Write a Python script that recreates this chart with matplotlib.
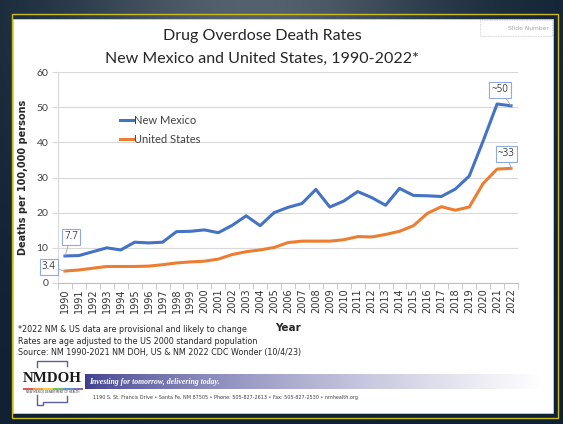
import matplotlib.pyplot as plt
import numpy as np
from matplotlib.patches import Rectangle

# age-adjusted overdose death rates per 100,000
years = list(range(1990, 2023))
nm_rates = [7.7, 7.8, 8.9, 10.0, 9.4, 11.6, 11.4, 11.6, 14.6, 14.7,
            15.1, 14.3, 16.4, 19.1, 16.3, 20.0, 21.5, 22.6, 26.6, 21.6,
            23.3, 26.0, 24.3, 22.1, 26.9, 24.9, 24.8, 24.6, 26.7, 30.4,
            40.4, 50.9, 50.4]
us_rates = [3.4, 3.7, 4.2, 4.7, 4.7, 4.7, 4.8, 5.2, 5.7, 6.0,
            6.2, 6.8, 8.1, 8.9, 9.4, 10.1, 11.5, 11.9, 11.9, 11.9,
            12.3, 13.2, 13.1, 13.8, 14.7, 16.3, 19.8, 21.7, 20.7, 21.6,
            28.3, 32.4, 32.6]
series_names = ["New Mexico", "United States"]
end_labels = ["~50", "~33"]
yticks = [0, 10, 20, 30, 40, 50, 60]

title_lines = ["Drug Overdose Death Rates",
               "New Mexico and United States, 1990-2022*"]
notes = ["*2022 NM & US data are provisional and likely to change",
         "Rates are age adjusted to the US 2000 standard population",
         "Source: NM 1990-2021 NM DOH, US & NM 2022 CDC Wonder (10/4/23)"]

W, H = 563, 424
fig = plt.figure(figsize=(W / 100, H / 100), dpi=100)

# slide backdrop, drawn in pixel coordinates
bg = fig.add_axes([0, 0, 1, 1])
bg.set_xlim(0, W)
bg.set_ylim(H, 0)
bg.axis("off")

gx, gy = np.meshgrid(np.linspace(0, 1, W), np.linspace(0, 1, H))
glow = np.exp(-((gx - 0.45) ** 2 / 0.12 + gy ** 2 / 0.25))
dark = np.array([0.06, 0.13, 0.20])
light = np.array([0.33, 0.38, 0.43])
grad = dark + glow[..., None] * (light - dark)
bg.imshow(grad, extent=(0, W, H, 0), aspect="auto", zorder=0)

bg.add_patch(Rectangle((12, 14), 546, 404, fill=False, ec="#cbbb1a", lw=1.0, zorder=1))
bg.add_patch(Rectangle((13, 19), 540, 394, fc="white", ec="#d8d8d8", lw=0.5, zorder=1))

bg.add_patch(Rectangle((480, 20), 72, 16, fill=False, ec="#c8c8c8", lw=0.6,
                       ls=(0, (1, 1)), zorder=2))
bg.text(549, 28.5, "Slide Number", ha="right", va="center", fontsize=4.3,
        color="#a6a6a6", zorder=3)

bg.text(262, 40, title_lines[0], ha="center", va="baseline", fontsize=11.5,
        family="Lato", color="#262626", zorder=3)
bg.text(262, 63, title_lines[1], ha="center", va="baseline", fontsize=11.5,
        family="Lato", color="#262626", zorder=3)

# chart
ax = fig.add_axes([58 / W, 1 - 283 / H, 460 / W, 211 / H], zorder=2)
ax.set_facecolor("none")
x = np.arange(len(years))
ax.plot(x, nm_rates, color="#4472c4", lw=2.2, solid_joinstyle="round",
        label=series_names[0])
ax.plot(x, us_rates, color="#ed7d31", lw=2.2, solid_joinstyle="round",
        label=series_names[1])

ax.set_xlim(-0.5, len(years) - 0.5)
ax.set_ylim(0, 60)
ax.set_yticks(yticks)
ax.set_yticklabels([str(v) for v in yticks], fontsize=7.5, family="Lato",
                   color="#404040")
ax.set_xticks(x)
ax.set_xticklabels([str(y) for y in years], rotation=90, fontsize=7,
                   color="#333333")
ax.set_xticks(np.arange(-0.5, len(years)), minor=True)
ax.tick_params(axis="x", which="major", length=0, pad=4)
ax.tick_params(axis="x", which="minor", length=4.5, color="#bfbfbf")
ax.tick_params(axis="y", length=4, color="#d9d9d9", pad=3)
ax.yaxis.grid(True, color="#d9d9d9", lw=0.8)
ax.set_axisbelow(True)
for side in ["top", "right"]:
    ax.spines[side].set_visible(False)
ax.spines["left"].set_color("#d9d9d9")
ax.spines["bottom"].set_color("#bfbfbf")

ax.set_ylabel("Deaths per 100,000 persons", fontsize=7, fontweight="bold",
              color="#262626")
ax.yaxis.set_label_coords(-0.065, 0.5)

ax.legend(loc="upper left", bbox_to_anchor=((120 - 58) / 460, (283 - 115) / 211),
          frameon=False, prop={"family": "Lato", "size": 8},
          handlelength=1.2, handletextpad=0.1, labelspacing=0.75,
          borderpad=0, borderaxespad=0, labelcolor="#404040")

# value call-outs with leader lines
box = dict(boxstyle="square,pad=0.25", fc="white", ec="#8faadc", lw=0.8)
lead = dict(arrowstyle="-", color="#a6a6a6", lw=0.6, shrinkA=0, shrinkB=0)
callout = dict(ha="center", va="center", fontsize=7, family="Open Sans",
               color="#404040", bbox=box, arrowprops=lead,
               annotation_clip=False)
ax.annotate(f"{nm_rates[0]}", xy=(0, nm_rates[0]), xytext=(0.43, 13.1), **callout)
ax.annotate(f"{us_rates[0]}", xy=(0, us_rates[0]), xytext=(-1.15, 4.55), **callout)
ax.annotate(end_labels[0], xy=(x[-1], nm_rates[-1]), xytext=(31.2, 55.0), **callout)
ax.annotate(end_labels[1], xy=(x[-1], us_rates[-1]), xytext=(31.67, 36.8), **callout)

bg.text(288, 328, "Year", ha="center", va="center", fontsize=7.5,
        fontweight="bold", color="#262626", zorder=3)
for i, line in enumerate(notes):
    bg.text(18, 330 + 11 * i, line, ha="left", va="center", fontsize=5.8,
            color="#262626", zorder=3)

# footer: logo, banner, address
bg.plot([37, 37, 67, 67], [367, 361, 361, 366], color="#5b5ea6", lw=1.0, zorder=3)
bg.plot([37, 37, 43, 43, 67, 67], [395, 405, 405, 402, 402, 396],
        color="#5b5ea6", lw=1.0, zorder=3)
bg.text(52.5, 378.5, "NMDOH", ha="center", va="center", fontsize=10.8,
        family="Liberation Serif", fontweight="bold", color="#1a1a1a", zorder=3)
stripe = ["#d9383a", "#f08a24", "#f2c318", "#5ab34a", "#3f7fc9", "#6a4fa3"]
for i, c in enumerate(stripe):
    bg.plot([23 + i * 10, 33 + i * 10], [388.5, 388.5], color=c, lw=1.2,
            solid_capstyle="butt", zorder=3)
bg.text(52.5, 392, "NEW MEXICO DEPARTMENT OF HEALTH", ha="center", va="center",
        fontsize=2.0, color="#333333", zorder=3)

t = np.linspace(0, 1, 256) ** 0.7
c0 = np.array([0.24, 0.24, 0.56])
band = c0 + t[:, None] * (np.ones(3) - c0)
bg.imshow(band[None, :, :], extent=(85, 542, 389, 374), aspect="auto", zorder=2)
bg.text(89, 381.5, "Investing for tomorrow, delivering today.", ha="left",
        va="center", fontsize=5.6, family="Liberation Serif", style="italic",
        fontweight="bold", color="white", zorder=3)
bg.text(93, 397, "1190 S. St. Francis Drive \u2022 Santa Fe, NM 87505 \u2022 "
        "Phone: 505-827-2613 \u2022 Fax: 505-827-2530 \u2022 nmhealth.org",
        ha="left", va="center", fontsize=3.5, color="#404040", zorder=3)

fig.savefig("out.png", dpi=100)
